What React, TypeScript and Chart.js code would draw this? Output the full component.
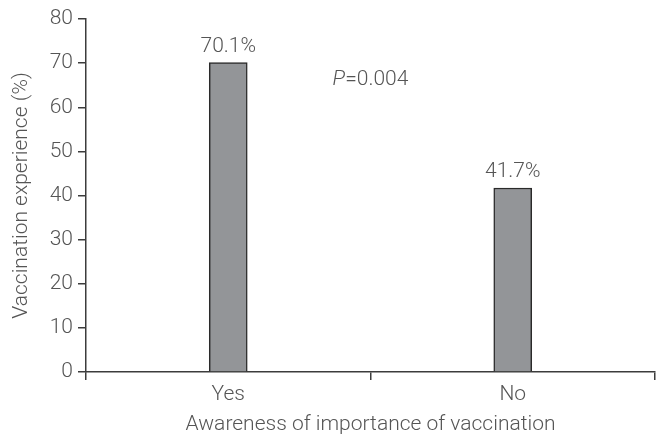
import React, { useEffect, useRef } from "react";
import { Chart, registerables } from "chart.js";

Chart.register(...registerables);

const categories = ["Yes", "No"];
const values = [70.1, 41.7];
const valueLabels = ["70.1%", "41.7%"];
const yTicks = [0, 10, 20, 30, 40, 50, 60, 70, 80];
const pText = "=0.004";
const pPosition = [0.5, 66.2];

const FONT = "Roboto";
const SIZE = 21;
const TEXT = "#555555";
const AXIS = "#3c3c3c";

const labelPlugin = {
  id: "labels",
  afterDatasetsDraw(chart: any) {
    const { ctx } = chart;
    const xs = chart.scales.x;
    const ys = chart.scales.y;
    ctx.save();
    ctx.font = `300 ${SIZE}px ${FONT}`;
    ctx.fillStyle = TEXT;
    ctx.textAlign = "center";
    ctx.textBaseline = "alphabetic";
    const meta = chart.getDatasetMeta(0);
    meta.data.forEach((bar: any, i: number) => {
      ctx.fillText(valueLabels[i], bar.x, bar.y - 11);
    });
    const px = xs.getPixelForValue(pPosition[0]);
    const py = ys.getPixelForValue(pPosition[1]);
    ctx.textBaseline = "middle";
    ctx.font = `italic 300 ${SIZE}px ${FONT}`;
    const pw = ctx.measureText("P").width;
    ctx.font = `300 ${SIZE}px ${FONT}`;
    const rw = ctx.measureText(pText).width;
    const start = px - (pw + rw) / 2;
    ctx.textAlign = "left";
    ctx.font = `italic 300 ${SIZE}px ${FONT}`;
    ctx.fillText("P", start, py);
    ctx.font = `300 ${SIZE}px ${FONT}`;
    ctx.fillText(pText, start + pw, py);
    ctx.restore();
  },
};

export default function App() {
  const ref = useRef<HTMLCanvasElement>(null);
  useEffect(() => {
    if (!ref.current) return;
    const font = { family: FONT, size: SIZE, weight: "300" as any };
    const chart = new Chart(ref.current, {
      type: "bar",
      data: {
        labels: categories,
        datasets: [
          {
            data: values,
            backgroundColor: "#939598",
            borderColor: "#2a2a2a",
            borderWidth: 1.5,
            barThickness: 38,
          },
        ],
      },
      options: {
        animation: false,
        responsive: false,
        maintainAspectRatio: false,
        layout: { padding: { left: 0, right: 1, top: 19, bottom: 0 } },
        plugins: { legend: { display: false }, tooltip: { enabled: false } },
        scales: {
          x: {
            grid: {
              display: true,
              drawOnChartArea: false,
              drawTicks: true,
              tickLength: 8,
              color: AXIS,
              lineWidth: 1.5,
              offset: true,
            },
            border: { display: true, color: AXIS, width: 1.5 },
            ticks: { color: TEXT, font, padding: 2 },
            title: {
              display: true,
              text: "Awareness of importance of vaccination",
              color: TEXT,
              font,
              padding: { top: 0, bottom: 1 },
            },
            afterFit(scale: any) {
              scale.height = 66;
            },
          },
          y: {
            min: 0,
            max: 80,
            afterBuildTicks(scale: any) {
              scale.ticks = yTicks.map((v) => ({ value: v }));
            },
            grid: {
              display: true,
              drawOnChartArea: false,
              drawTicks: true,
              tickLength: 8,
              color: AXIS,
              lineWidth: 1.5,
            },
            border: { display: true, color: AXIS, width: 1.5 },
            ticks: { color: TEXT, font, padding: 5 },
            title: {
              display: true,
              text: "Vaccination experience (%)",
              color: TEXT,
              font,
              padding: { top: 9, bottom: 0 },
            },
            afterFit(scale: any) {
              scale.width = 86;
            },
          },
        },
      },
      plugins: [labelPlugin],
    });
    return () => chart.destroy();
  }, []);
  return (
    <div style={{ position: "fixed", left: 0, top: 0, width: 656, height: 438, background: "#fff" }}>
      <canvas ref={ref} width={656} height={438} style={{ width: 656, height: 438 }} />
    </div>
  );
}
